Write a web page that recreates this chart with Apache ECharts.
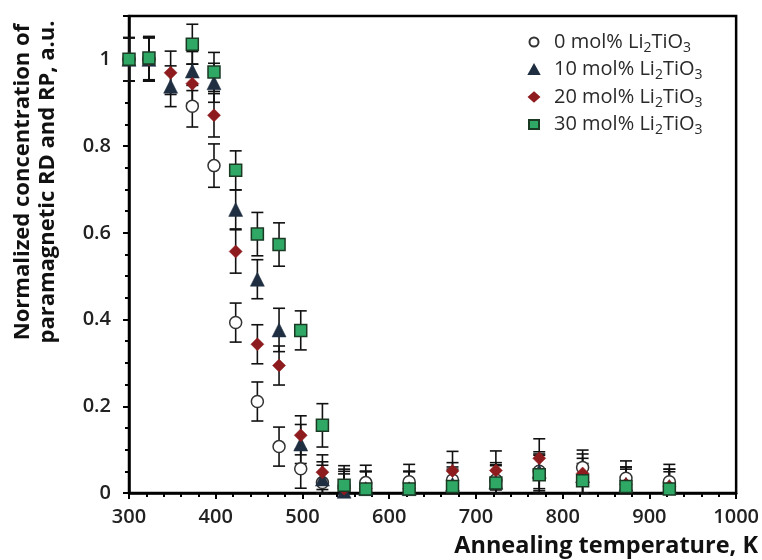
<!DOCTYPE html>
<html>
<head>
<meta charset="utf-8">
<script src="https://cdn.jsdelivr.net/npm/echarts@6/dist/echarts.min.js"></script>
<style>html,body{margin:0;padding:0;background:#fff}#c{width:762px;height:560px}</style>
</head>
<body>
<div id="c"></div>
<script>
// Annealing temperatures, K
var temps = [300, 323, 348, 373, 398, 423, 448, 473, 498, 523, 548, 573, 623, 673, 723, 773, 823, 873, 923];
// Normalized concentration (null = no visible point)
var mol0  = [1.00, 1.00, null, 0.892, 0.755, 0.393, 0.211, 0.107, 0.056, 0.024, 0.015, 0.024, 0.026, 0.030, 0.030, 0.050, 0.059, 0.034, 0.026];
var mol10 = [1.00, 1.00, 0.938, 0.973, 0.946, 0.654, 0.493, 0.376, 0.113, 0.032, 0.004, 0.010, 0.010, 0.020, 0.025, 0.050, 0.040, 0.020, 0.015];
var mol20 = [1.00, 1.00, 0.969, 0.944, 0.871, 0.557, 0.343, 0.294, 0.133, 0.048, 0.010, 0.010, 0.010, 0.051, 0.052, 0.080, 0.045, 0.020, 0.015];
var mol30 = [1.00, 1.003, null, 1.035, 0.971, 0.744, 0.597, 0.573, 0.375, 0.156, 0.018, 0.009, 0.009, 0.015, 0.023, 0.042, 0.028, 0.015, 0.009];
// Error bar half-widths
var err0  = [0.05, 0.05, 0.05, 0.048, 0.05, 0.045, 0.045, 0.045, 0.045, 0.04, 0.04, 0.04, 0.04, 0.04, 0.04, 0.04, 0.04, 0.04, 0.04];
var err10 = [0.05, 0.05, 0.047, 0.045, 0.045, 0.045, 0.045, 0.05, 0.045, 0.04, 0.04, 0.04, 0.04, 0.04, 0.04, 0.045, 0.04, 0.04, 0.04];
var err20 = [0.05, 0.05, 0.05, 0.045, 0.05, 0.05, 0.045, 0.045, 0.045, 0.04, 0.04, 0.04, 0.04, 0.045, 0.045, 0.045, 0.045, 0.04, 0.04];
var err30 = [0.05, 0.05, 0.05, 0.046, 0.045, 0.045, 0.05, 0.05, 0.045, 0.05, 0.045, 0.04, 0.04, 0.04, 0.04, 0.045, 0.04, 0.04, 0.04];
var seriesNames = ['0 mol% Li2TiO3', '10 mol% Li2TiO3', '20 mol% Li2TiO3', '30 mol% Li2TiO3'];
var xTicks = [300, 400, 500, 600, 700, 800, 900, 1000];
var yTicks = [0, 0.2, 0.4, 0.6, 0.8, 1];
var xTitle = 'Annealing temperature, K';
var yTitle = 'Normalized concentration of\nparamagnetic RD and RP, a.u.';

function pts(vals) {
  var out = [];
  for (var i = 0; i < temps.length; i++) if (vals[i] != null) out.push([temps[i], vals[i]]);
  return out;
}
function errPts(vals, errs) {
  var out = [];
  for (var i = 0; i < temps.length; i++) if (vals[i] != null) out.push([temps[i], vals[i], errs[i]]);
  return out;
}
function renderErr(params, api) {
  var x = api.value(0), y = api.value(1), e = api.value(2);
  var lo = api.coord([x, Math.max(0, y - e)]);
  var hi = api.coord([x, y + e]);
  var hw = 6;
  var st = { stroke: '#111', lineWidth: 1.6 };
  return {
    type: 'group',
    children: [
      { type: 'line', shape: { x1: lo[0], y1: lo[1], x2: hi[0], y2: hi[1] }, style: st },
      { type: 'line', shape: { x1: hi[0] - hw, y1: hi[1], x2: hi[0] + hw, y2: hi[1] }, style: st },
      { type: 'line', shape: { x1: lo[0] - hw, y1: lo[1], x2: lo[0] + hw, y2: lo[1] }, style: st }
    ]
  };
}
function errSeries(vals, errs) {
  return { type: 'custom', renderItem: renderErr, data: errPts(vals, errs), z: 1, silent: true,
           encode: { x: 0, y: 1 } };
}

var font = '"Open Sans", "Liberation Sans", Arial, sans-serif';
var legendRich = {
  f: { fontSize: 20, color: '#2a2a2a', fontFamily: font, lineHeight: 22, padding: [0, 0, 0, 10] },
  a: { fontSize: 20, color: '#2a2a2a', fontFamily: font, lineHeight: 22 },
  s: { fontSize: 14, color: '#2a2a2a', fontFamily: font, lineHeight: 14, padding: [12, 0, 0, 0] }
};

var chart = echarts.init(document.getElementById('c'), null, { renderer: 'canvas' });
chart.setOption({
  animation: false,
  backgroundColor: '#fff',
  grid: { left: 129, right: 25, top: 16, bottom: 67, show: true, borderColor: '#000', borderWidth: 2.5, backgroundColor: 'transparent' },
  xAxis: {
    type: 'value', min: 300, max: 1000, interval: 100,
    axisLine: { show: true, lineStyle: { color: '#000', width: 2.5 } },
    axisTick: { show: true, inside: false, length: 6, lineStyle: { color: '#000', width: 2 } },
    minorTick: { show: true, splitNumber: 5, length: 4, lineStyle: { color: '#000', width: 2 } },
    splitLine: { show: false },
    axisLabel: { fontSize: 20, fontWeight: 600, color: '#222', fontFamily: font, margin: 14,
      formatter: function (v) { return xTicks.indexOf(v) >= 0 ? String(v) : ''; } }
  },
  yAxis: {
    type: 'value', min: 0, max: 1.1, interval: 0.2,
    axisLine: { show: true, lineStyle: { color: '#000', width: 2.5 } },
    axisTick: { show: true, inside: false, length: 6, lineStyle: { color: '#000', width: 2 } },
    minorTick: { show: true, splitNumber: 4, length: 4, lineStyle: { color: '#000', width: 2 } },
    splitLine: { show: false },
    axisLabel: { fontSize: 20, fontWeight: 600, color: '#222', fontFamily: font, margin: 18,
      formatter: function (v) {
        for (var i = 0; i < yTicks.length; i++) if (Math.abs(yTicks[i] - v) < 1e-9) return String(yTicks[i]);
        return '';
      } }
  },
  graphic: [
    { type: 'text', style: { x: 758, y: 546, text: xTitle, textAlign: 'right', textVerticalAlign: 'middle',
        fontSize: 23.5, fontWeight: 'bold', fill: '#111', fontFamily: font } },
    { type: 'text', x: 35, y: 182, rotation: Math.PI / 2,
      style: { x: 0, y: 0, text: yTitle, textAlign: 'center', textVerticalAlign: 'middle', lineHeight: 25,
        fontSize: 22, fontWeight: 'bold', fill: '#111', fontFamily: font } }
  ],
  legend: {
    orient: 'vertical', left: 523, top: 24, itemWidth: 10, itemHeight: 9, itemGap: 1.5,
    data: seriesNames,
    textStyle: { rich: legendRich },
    formatter: function (n) {
      var p = n.split(' ');
      return '{f|' + p[0] + ' ' + p[1] + ' Li}{s|2}{a|TiO}{s|3}';
    }
  },
  series: [
    errSeries(mol0, err0), errSeries(mol10, err10), errSeries(mol20, err20), errSeries(mol30, err30),
    { name: seriesNames[0], type: 'scatter', data: pts(mol0), symbol: 'circle', symbolSize: 12, z: 3,
      itemStyle: { color: '#fff', borderColor: '#333', borderWidth: 1.5, opacity: 1 } },
    { name: seriesNames[1], type: 'scatter', data: pts(mol10), symbol: 'triangle', symbolSize: 14, z: 4,
      itemStyle: { color: '#1f2e40', borderColor: '#1f2e40', borderWidth: 0.5, opacity: 1 } },
    { name: seriesNames[2], type: 'scatter', data: pts(mol20), symbol: 'diamond', symbolSize: 13, z: 5,
      itemStyle: { color: '#8e1c1f', borderColor: '#8e1c1f', borderWidth: 0.5, opacity: 1 } },
    { name: seriesNames[3], type: 'scatter', data: pts(mol30), symbol: 'rect', symbolSize: 12, z: 6,
      itemStyle: { color: '#2fa866', borderColor: '#1b3a24', borderWidth: 1.5, opacity: 1 } }
  ]
});
</script>
</body>
</html>
